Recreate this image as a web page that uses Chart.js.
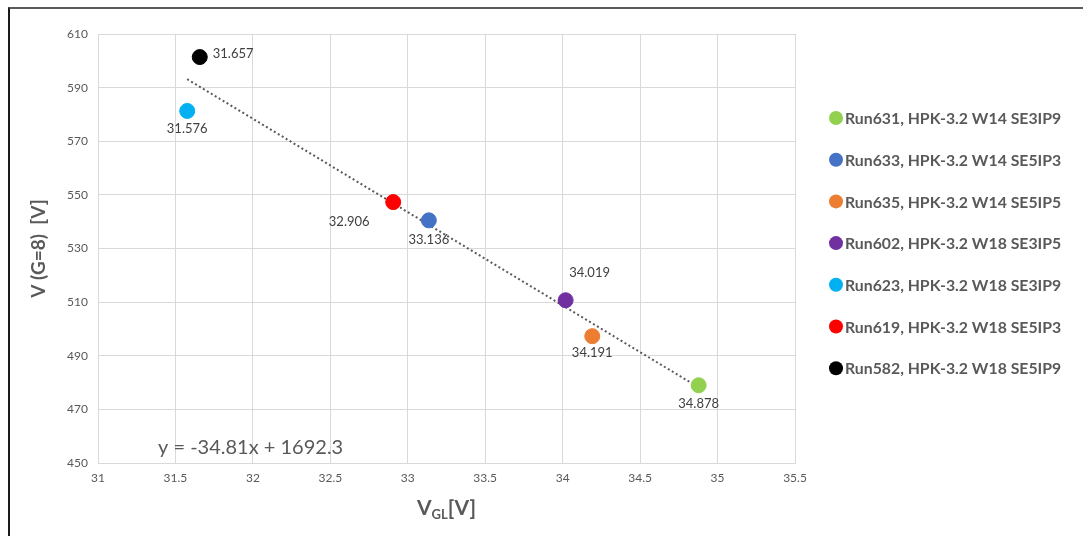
<!DOCTYPE html>
<html>
<head>
<meta charset="utf-8">
<script src="https://cdn.jsdelivr.net/npm/chart.js@4.4.1/dist/chart.umd.min.js"></script>
<style>
  html, body { margin: 0; padding: 0; background: #fff; }
  #frame { position: absolute; left: 8px; top: 7px; width: 1075px; height: 529px;
           border-top: 2px solid #5a5a5a; border-left: 2px solid #1a1a1a; box-sizing: border-box; }
  #wrap { position: absolute; left: 0; top: 0; width: 1083px; height: 536px; }
</style>
</head>
<body>
<div id="frame"></div>
<div id="wrap"><canvas id="c" width="1083" height="536"></canvas></div>
<script>
// Runs and their measurements: gate voltage V_GL and bias voltage at gain 8
const runNames = [
  'Run631, HPK-3.2 W14 SE3IP9',
  'Run633, HPK-3.2 W14 SE5IP3',
  'Run635, HPK-3.2 W14 SE5IP5',
  'Run602, HPK-3.2 W18 SE3IP5',
  'Run623, HPK-3.2 W18 SE3IP9',
  'Run619, HPK-3.2 W18 SE5IP3',
  'Run582, HPK-3.2 W18 SE5IP9'
];
const vGL = [34.878, 33.136, 34.191, 34.019, 31.576, 32.906, 31.657];
const vG8 = [479.0, 540.5, 497.3, 510.7, 581.3, 547.3, 601.4];
const runColors = ['#92d050', '#4472c4', '#ed7d31', '#7030a0', '#00b0f0', '#ff0000', '#000000'];

// Linear fit shown on the chart
const fitSlope = -34.81;
const fitIntercept = 1692.3;

// Axis ranges and tick steps
const xMin = 31, xMax = 35.5, xStep = 0.5;
const yMin = 450, yMax = 610, yStep = 20;

// Where each value label sits relative to its marker (px)
const labelOffsets = [[0, 19], [0, 19], [0, 17], [24, -27], [0, 18], [-44, 20], [34, -3]];

const FONT = 'Lato, "Open Sans", sans-serif';
const GREY = '#595959';

const fitX0 = Math.min(...vGL), fitX1 = Math.max(...vGL);

const datasets = runNames.map((name, i) => ({
  label: name,
  data: [{ x: vGL[i], y: vG8[i] }],
  backgroundColor: runColors[i],
  borderColor: runColors[i],
  pointRadius: 7.5,
  pointHoverRadius: 7.5,
  showLine: false,
  order: 1
}));
datasets.push({
  label: 'fit',
  data: [
    { x: fitX0, y: fitSlope * fitX0 + fitIntercept },
    { x: fitX1, y: fitSlope * fitX1 + fitIntercept }
  ],
  showLine: true,
  borderColor: GREY,
  borderWidth: 2,
  borderDash: [2, 2.6],
  pointRadius: 0,
  fill: false,
  order: 2
});

// Value labels, axis titles, fit equation and legend
const decorations = {
  id: 'decorations',
  afterDatasetsDraw(chart) {
    const ctx = chart.ctx;
    const xs = chart.scales.x, ys = chart.scales.y;
    ctx.save();
    // value labels
    ctx.font = '13px ' + FONT;
    ctx.fillStyle = '#404040';
    ctx.textBaseline = 'middle';
    vGL.forEach((v, i) => {
      const px = xs.getPixelForValue(v), py = ys.getPixelForValue(vG8[i]);
      const [dx, dy] = labelOffsets[i];
      ctx.textAlign = dx > 30 ? 'left' : 'center';
      ctx.fillText(v.toFixed(3), px + (dx > 30 ? 13 : dx), py + dy);
    });
    // fit equation
    ctx.font = '20px ' + FONT;
    ctx.fillStyle = GREY;
    ctx.textAlign = 'left';
    ctx.textBaseline = 'alphabetic';
    ctx.fillText('y = ' + fitSlope.toFixed(2) + 'x + ' + fitIntercept.toFixed(1), 158, 454);
    // x axis title with subscript
    const cx = (chart.chartArea.left + chart.chartArea.right) / 2;
    const parts = [['V', 'bold 21px ' + FONT, 0], ['GL', 'bold 13px ' + FONT, 4], ['[V]', 'bold 21px ' + FONT, 0]];
    let total = 0;
    parts.forEach(p => { ctx.font = p[1]; total += ctx.measureText(p[0]).width; });
    let x = cx - total / 2;
    parts.forEach(p => { ctx.font = p[1]; ctx.fillText(p[0], x, 515 + p[2]); x += ctx.measureText(p[0]).width; });
    // y axis title
    ctx.save();
    ctx.translate(45, (chart.chartArea.top + chart.chartArea.bottom) / 2);
    ctx.rotate(-Math.PI / 2);
    ctx.font = 'bold 19px ' + FONT;
    ctx.textAlign = 'center';
    ctx.fillText('V (G=8)  [V]', 0, 0);
    ctx.restore();
    // legend
    ctx.font = 'bold 15.8px ' + FONT;
    ctx.textBaseline = 'middle';
    runNames.forEach((name, i) => {
      const y = 118 + i * 41.7;
      ctx.beginPath();
      ctx.arc(836, y, 7, 0, Math.PI * 2);
      ctx.fillStyle = runColors[i];
      ctx.fill();
      ctx.fillStyle = GREY;
      ctx.fillText(name, 845, y + 1);
    });
    ctx.restore();
  }
};

new Chart(document.getElementById('c'), {
  type: 'scatter',
  data: { datasets },
  options: {
    responsive: false,
    animation: false,
    events: [],
    layout: { padding: { left: 10, top: 34, right: 288, bottom: 0 } },
    plugins: { legend: { display: false }, tooltip: { enabled: false } },
    scales: {
      x: {
        type: 'linear', min: xMin, max: xMax,
        afterFit(s) { s.height = 73; },
        ticks: { stepSize: xStep, color: GREY, font: { family: FONT, size: 12 }, padding: 8,
                 callback: v => String(Math.round(v * 10) / 10) },
        grid: { color: '#d9d9d9', lineWidth: 1, drawTicks: false },
        border: { color: '#d9d9d9' }
      },
      y: {
        type: 'linear', min: yMin, max: yMax,
        afterFit(s) { s.width = 88; },
        ticks: { stepSize: yStep, color: GREY, font: { family: FONT, size: 12 }, padding: 10 },
        grid: { color: '#d9d9d9', lineWidth: 1, drawTicks: false },
        border: { color: '#d9d9d9' }
      }
    }
  },
  plugins: [decorations]
});
</script>
</body>
</html>
